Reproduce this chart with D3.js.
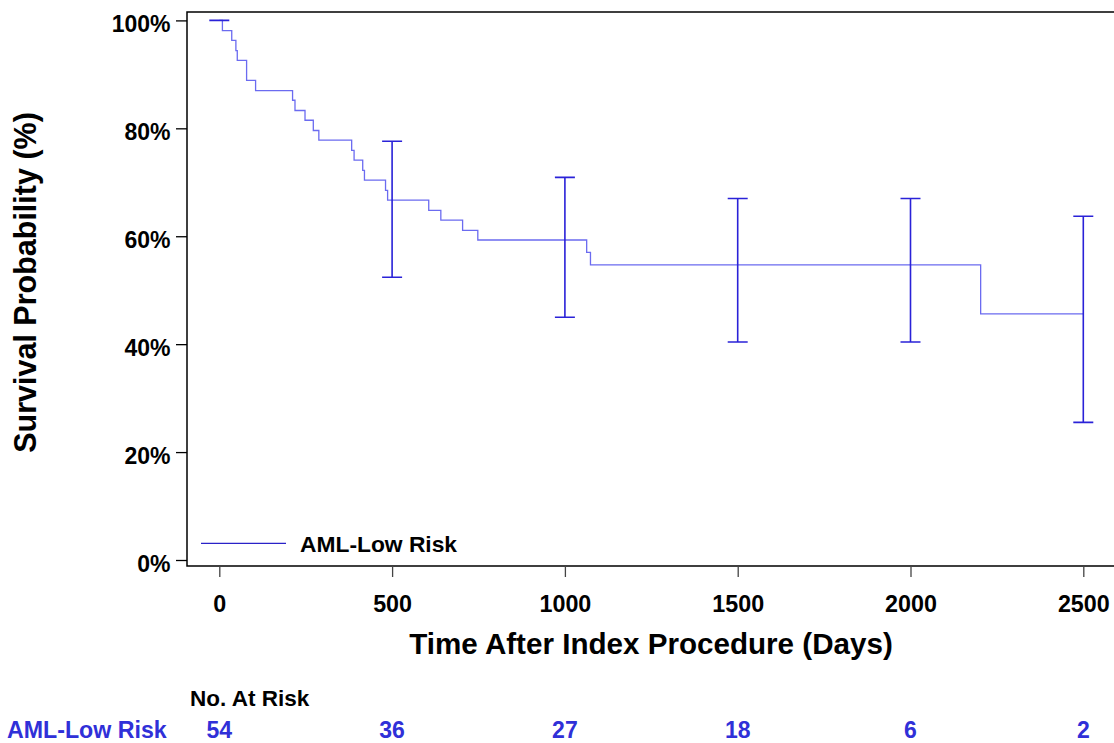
<!DOCTYPE html>
<html>
 <head>
 <title>KM curve</title>
 <meta charset="UTF-8">
 <style type="text/css">
   body { margin: 0; background: #fff; }
   text { font-family: "Liberation Sans", Arial, sans-serif; font-weight: bold; }
 </style>
 <script src="https://d3js.org/d3.v7.min.js"></script>
 </head>
 <body>
 <script type="text/javascript">

    // Kaplan-Meier steps (days, survival after event)
    var kmTimes = [0, 9, 36, 48, 52, 79, 79, 105, 212, 219, 248, 272, 288, 383, 390, 415, 420, 481, 487, 606, 641, 704, 748, 1063, 1074, 2203];
    var kmSurv  = [1.000, 0.981, 0.963, 0.944, 0.926, 0.907, 0.889, 0.870, 0.852, 0.833, 0.815, 0.796, 0.778, 0.759, 0.741, 0.722, 0.704, 0.685, 0.667, 0.648, 0.630, 0.611, 0.593, 0.570, 0.547, 0.456];
    var kmEnd = 2500;

    // confidence bars
    var ciTimes = [0, 500, 1000, 1500, 2000, 2500];
    var ciLower = [1.000, 0.524, 0.450, 0.404, 0.404, 0.255];
    var ciUpper = [1.000, 0.776, 0.709, 0.670, 0.670, 0.637];

    // number at risk
    var riskTimes = [0, 500, 1000, 1500, 2000, 2500];
    var atRisk = [54, 36, 27, 18, 6, 2];

    var xTicks = [0, 500, 1000, 1500, 2000, 2500];
    var yTicks = [0, 0.2, 0.4, 0.6, 0.8, 1.0];
    var groupName = "AML-Low Risk";

    var width = 1114, height = 743;
    var frame = {left: 187, top: 12, bottom: 566, right: 1116};

    var x = d3.scaleLinear().domain([0, 2500]).range([219.3, 1083.3]);
    var y = d3.scaleLinear().domain([0, 1]).range([560, 20.4]);

    var svg = d3.select("body").append("svg")
        .attr("width", width)
        .attr("height", height);

    // frame
    svg.append("path")
        .attr("d", "M" + frame.right + "," + frame.top + "H" + frame.left + "V" + frame.bottom + "H" + frame.right)
        .attr("fill", "none")
        .attr("stroke", "#000")
        .attr("stroke-width", 1.5);

    // y axis
    var yAxis = svg.append("g")
        .attr("transform", "translate(" + frame.left + ",0)")
        .call(d3.axisLeft(y).tickValues(yTicks).tickSize(11).tickFormat(d3.format(".0%")));
    yAxis.select(".domain").remove();
    yAxis.selectAll(".tick line").attr("stroke", "#000").attr("stroke-width", 1.3);
    yAxis.selectAll(".tick text")
        .attr("x", -16.5).attr("dy", "0.5em")
        .style("font-size", "23px").attr("fill", "#000");

    // x axis
    var xAxis = svg.append("g")
        .attr("transform", "translate(0," + frame.bottom + ")")
        .call(d3.axisBottom(x).tickValues(xTicks).tickSize(11).tickFormat(d3.format("d")));
    xAxis.select(".domain").remove();
    xAxis.selectAll(".tick line").attr("stroke", "#444").attr("stroke-width", 1.3);
    xAxis.selectAll(".tick text")
        .attr("y", 45.5).attr("dy", null)
        .style("font-size", "23.3px").attr("fill", "#000");

    // axis titles
    svg.append("text")
        .attr("x", 651).attr("y", 654)
        .attr("text-anchor", "middle")
        .style("font-size", "29.6px")
        .text("Time After Index Procedure (Days)");

    svg.append("text")
        .attr("transform", "translate(36,282.5) rotate(-90)")
        .attr("text-anchor", "middle")
        .style("font-size", "30.5px")
        .text("Survival Probability (%)");

    // KM step curve
    var kmData = kmTimes.map(function(t, i) { return [t, kmSurv[i]]; });
    kmData.push([kmEnd, kmSurv[kmSurv.length - 1]]);

    var valueline = d3.line()
        .x(function(d) { return x(d[0]); })
        .y(function(d) { return y(d[1]); })
        .curve(d3.curveStepAfter);

    svg.append("path")
        .attr("d", valueline(kmData))
        .attr("fill", "none")
        .attr("stroke", "#6b6bf0")
        .attr("stroke-width", 1.3);

    // error bars
    var ci = ciTimes.map(function(t, i) { return {t: t, lo: ciLower[i], hi: ciUpper[i]}; });
    var bars = svg.append("g")
        .attr("stroke", "#2a22d8")
        .attr("stroke-width", 1.6)
        .attr("fill", "none");
    bars.selectAll("path")
        .data(ci)
        .enter().append("path")
        .attr("d", function(d) {
            var cx = x(d.t), y0 = y(d.lo), y1 = y(d.hi);
            return "M" + (cx - 10) + "," + y1 + "H" + (cx + 10) +
                   "M" + cx + "," + y1 + "V" + y0 +
                   "M" + (cx - 10) + "," + y0 + "H" + (cx + 10);
        });

    // legend
    svg.append("line")
        .attr("x1", 201).attr("x2", 286)
        .attr("y1", 543.3).attr("y2", 543.3)
        .attr("stroke", "#2a22c8")
        .attr("stroke-width", 1.2);
    svg.append("text")
        .attr("x", 300).attr("y", 552.3)
        .style("font-size", "22.8px")
        .text(groupName);

    // number at risk table
    svg.append("text")
        .attr("x", 190).attr("y", 705.7)
        .style("font-size", "22.5px")
        .text("No. At Risk");

    svg.append("text")
        .attr("x", 7).attr("y", 738.3)
        .style("font-size", "23.2px")
        .attr("fill", "#3030d8")
        .text(groupName);

    svg.selectAll(".risk")
        .data(atRisk)
        .enter().append("text")
        .attr("class", "risk")
        .attr("x", function(d, i) { return x(riskTimes[i]); })
        .attr("y", 738.3)
        .attr("text-anchor", "middle")
        .style("font-size", "23px")
        .attr("fill", "#3030d8")
        .text(function(d) { return d; });

 </script>
 </body>
</html>
